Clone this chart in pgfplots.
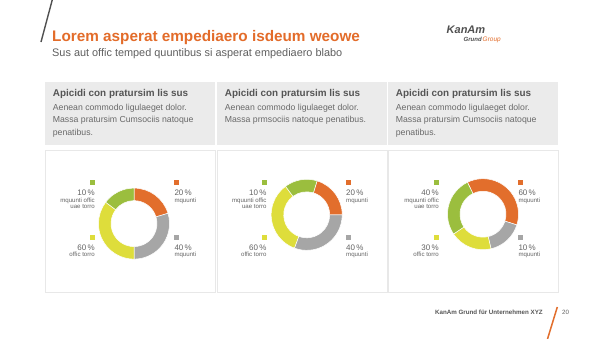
\documentclass[border=0pt]{standalone}
\usepackage{pgfplots}
\pgfplotsset{compat=1.18}
\usepackage{pgfplotstable}
\usepackage{fontspec}
\setmainfont{Liberation Sans}

\definecolor{cO}{RGB}{226,110,44}
\definecolor{cGy}{RGB}{166,166,166}
\definecolor{cY}{RGB}{222,221,59}
\definecolor{cGr}{RGB}{155,190,62}
\definecolor{cTitle}{RGB}{227,108,42}
\definecolor{cSub}{RGB}{95,95,95}
\definecolor{cHead}{RGB}{85,85,85}
\definecolor{cBody}{RGB}{105,105,105}
\definecolor{cLab}{RGB}{100,100,100}
\definecolor{cBox}{RGB}{235,235,235}
\definecolor{cBorder}{RGB}{232,232,232}
\definecolor{cDark}{RGB}{80,80,80}

% donut data: share in percent, colour
\pgfplotstableread{
v c
20.3 cO
29.7 cGy
35.3 cY
14.7 cGr
}\donutA
\pgfplotstableread{
v c
20.3 cO
30.6 cGy
34.2 cY
14.9 cGr
}\donutB
\pgfplotstableread{
v c
37.1 cO
16.5 cGy
19.2 cY
27.2 cGr
}\donutC

\def\Ro{35.5}
\def\Ri{23}
\newcommand\drawdonut[2]{%
  \pgfmathsetmacro\cur{#2}%
  \pgfplotsforeachungrouped \i in {0,1,2,3}{%
    \pgfplotstablegetelem{\i}{v}\of{#1}\let\val\pgfplotsretval
    \pgfplotstablegetelem{\i}{c}\of{#1}\let\col\pgfplotsretval
    \pgfmathsetmacro\nxt{\cur-3.6*\val}%
    \pgfmathsetmacro\xa{\Ro*cos(\cur)}%
    \pgfmathsetmacro\ya{\Ro*sin(\cur)}%
    \pgfmathsetmacro\xb{\Ri*cos(\nxt)}%
    \pgfmathsetmacro\yb{\Ri*sin(\nxt)}%
    \edef\temp{\noexpand\fill[\col, draw=white, line width=0.5pt] (axis cs:\xa,\ya) arc[start angle=\cur, end angle=\nxt, radius=\Ro pt] -- (axis cs:\xb,\yb) arc[start angle=\nxt, end angle=\cur, radius=\Ri pt] -- cycle;}%
    \temp
    \let\cur\nxt
  }%
}

\newcommand\leftlab[6]{% xright, color, pct, line1, line2, upper(1)/lower(0)
  \ifnum#6=1
    \fill[#2] (#1-4.7,180) rectangle (#1,184.7);
    \node[anchor=base east, inner sep=0, text=cLab, font=\fontsize{8}{9}\selectfont] at (#1,195.5) {#3};
    \node[anchor=base east, inner sep=0, text=cLab, font=\fontsize{6.1}{7}\selectfont] at (#1,202.3) {#4};
    \node[anchor=base east, inner sep=0, text=cLab, font=\fontsize{6.1}{7}\selectfont] at (#1,208.6) {#5};
  \else
    \fill[#2] (#1-4.7,235) rectangle (#1,239.7);
    \node[anchor=base east, inner sep=0, text=cLab, font=\fontsize{8}{9}\selectfont] at (#1,250.3) {#3};
    \node[anchor=base east, inner sep=0, text=cLab, font=\fontsize{6.1}{7}\selectfont] at (#1,256.6) {#4};
  \fi
}
\newcommand\rightlab[5]{% xleft, color, pct, line1, upper(1)/lower(0)
  \ifnum#5=1
    \fill[#2] (#1,180) rectangle (#1+4.7,184.7);
    \node[anchor=base west, inner sep=0, text=cLab, font=\fontsize{8}{9}\selectfont] at (#1,195.5) {#3};
    \node[anchor=base west, inner sep=0, text=cLab, font=\fontsize{6.1}{7}\selectfont] at (#1,202.3) {#4};
  \else
    \fill[#2] (#1,235) rectangle (#1+4.7,239.7);
    \node[anchor=base west, inner sep=0, text=cLab, font=\fontsize{8}{9}\selectfont] at (#1,250.3) {#3};
    \node[anchor=base west, inner sep=0, text=cLab, font=\fontsize{6.1}{7}\selectfont] at (#1,256.6) {#4};
  \fi
}

\begin{document}
\begin{tikzpicture}
\begin{scope}[x=1pt,y=-1pt]
\useasboundingbox (0,0) rectangle (599,338);
\fill[white] (0,0) rectangle (599,338);
% decorative line
\draw[cDark, line width=1.4pt] (52.5,-1) -- (41,42);
% title
\node[anchor=base west, inner sep=0, text=cTitle, font=\fontsize{15.3}{18}\selectfont\bfseries] at (52,41) {Lorem asperat empediaero isdeum weowe};
\node[anchor=base west, inner sep=0, text=cSub, font=\fontsize{10.9}{13}\selectfont] at (52,56) {Sus aut offic temped quuntibus si asperat empediaero blabo};
% logo
\node[anchor=base west, inner sep=0, text=cDark, font=\fontsize{11}{12}\selectfont\bfseries\itshape] at (446.5,33.3) {KanAm};
\node[anchor=base west, inner sep=0, text=cDark, font=\fontsize{6}{7}\selectfont\bfseries\itshape] at (463.5,41.5) {Grund};
\node[anchor=base west, inner sep=0, text=cTitle, font=\fontsize{6.5}{7}\selectfont\itshape] at (482.5,41.5) {Group};
% boxes
\foreach \x in {45,217,388}{
  \fill[cBox] (\x,82) rectangle +(170,63);
  \draw[cBorder, line width=0.6pt] (\x,150) rectangle +(170,142);
}
% header texts
\foreach \x in {45,217,388}{
  \node[anchor=base west, inner sep=0, text=cHead, font=\fontsize{9.9}{12}\selectfont\bfseries] at (\x+7.7,96.2) {Apicidi con pratursim lis sus};
  \node[anchor=base west, inner sep=0, text=cBody, font=\fontsize{8.7}{10}\selectfont] at (\x+7.7,110) {Aenean commodo ligulaeget dolor.};
}
\node[anchor=base west, inner sep=0, text=cBody, font=\fontsize{8.7}{10}\selectfont] at (52.7,122.5) {Massa pratursim Cumsociis natoque};
\node[anchor=base west, inner sep=0, text=cBody, font=\fontsize{8.7}{10}\selectfont] at (52.7,135) {penatibus.};
\node[anchor=base west, inner sep=0, text=cBody, font=\fontsize{8.7}{10}\selectfont] at (224.7,122.5) {Massa prmsociis natoque penatibus.};
\node[anchor=base west, inner sep=0, text=cBody, font=\fontsize{8.7}{10}\selectfont] at (395.7,122.5) {Massa pratursim Cumsociis natoque};
\node[anchor=base west, inner sep=0, text=cBody, font=\fontsize{8.7}{10}\selectfont] at (395.7,135) {penatibus.};
% labels
\leftlab{95}{cGr}{10\,\%}{mquunti offic}{uae torro}{1}
\leftlab{95}{cY}{60\,\%}{offic torro}{}{0}
\rightlab{174.3}{cO}{20\,\%}{mquunti}{1}
\rightlab{174.3}{cGy}{40\,\%}{mquunti}{0}
\leftlab{266.7}{cGr}{10\,\%}{mquunti offic}{uae torro}{1}
\leftlab{266.7}{cY}{60\,\%}{offic torro}{}{0}
\rightlab{346}{cO}{20\,\%}{mquunti}{1}
\rightlab{346}{cGy}{40\,\%}{mquunti}{0}
\leftlab{439}{cGr}{40\,\%}{mquunti offic}{uae torro}{1}
\leftlab{439}{cY}{30\,\%}{offic torro}{}{0}
\rightlab{518.3}{cO}{60\,\%}{mquunti}{1}
\rightlab{518.3}{cGy}{10\,\%}{mquunti}{0}
% footer
\node[anchor=base west, inner sep=0, text=cHead, font=\fontsize{6.2}{7}\selectfont\bfseries] at (435,314.5) {KanAm Grund für Unternehmen XYZ};
\node[anchor=base west, inner sep=0, text=cLab, font=\fontsize{6.2}{7}\selectfont] at (562,314.5) {20};
\draw[cO, line width=1.5pt] (557.3,307) -- (547.5,339);
\end{scope}

\begin{axis}[at={(134pt,-223.6pt)}, anchor=center, x=1pt, y=1pt,
  xmin=-40, xmax=40, ymin=-40, ymax=40, hide axis, clip=false]
  \drawdonut{\donutA}{90}
\end{axis}
\begin{axis}[at={(306.7pt,-214.8pt)}, anchor=center, x=1pt, y=1pt,
  xmin=-40, xmax=40, ymin=-40, ymax=40, hide axis, clip=false]
  \drawdonut{\donutB}{73}
\end{axis}
\begin{axis}[at={(483pt,-214.2pt)}, anchor=center, x=1pt, y=1pt,
  xmin=-40, xmax=40, ymin=-40, ymax=40, hide axis, clip=false]
  \drawdonut{\donutC}{116}
\end{axis}
\end{tikzpicture}
\end{document}
